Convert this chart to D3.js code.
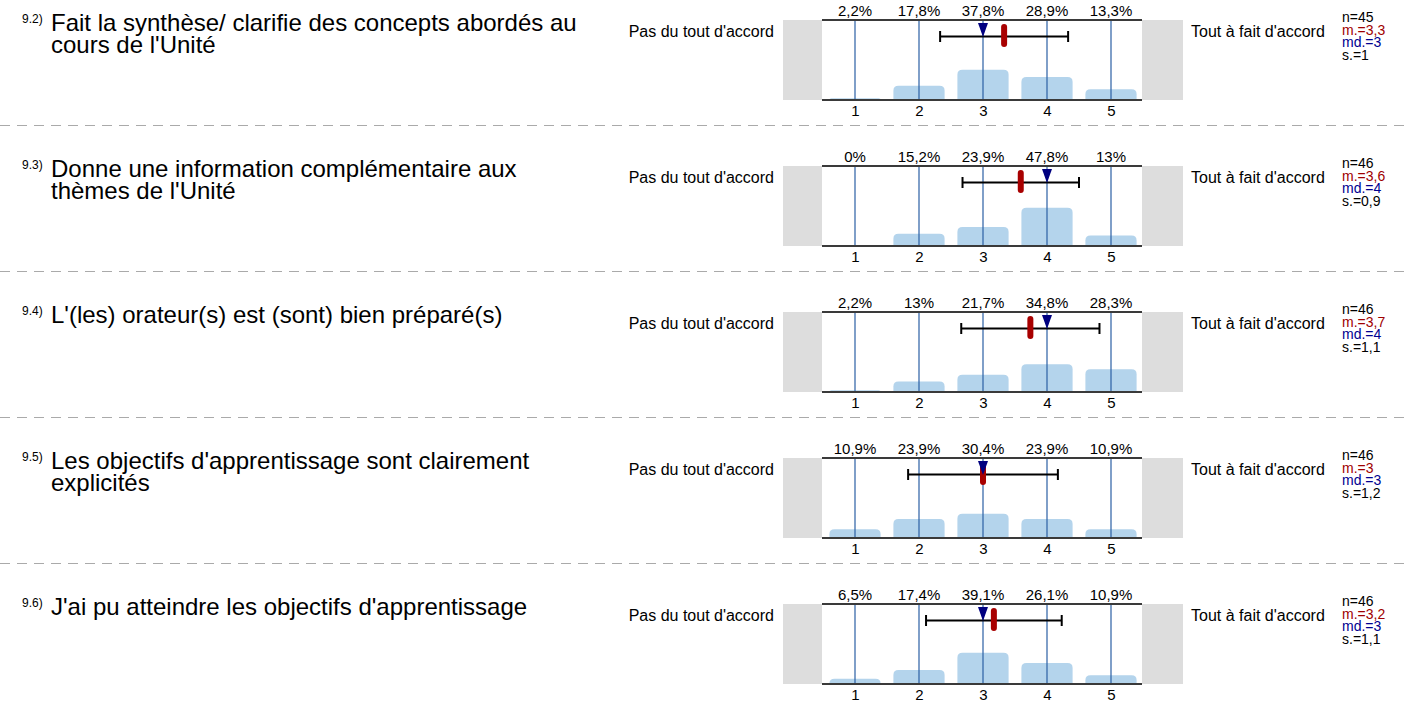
<!DOCTYPE html>
<html>
<head>
<meta charset="utf-8">
<script src="https://cdn.jsdelivr.net/npm/d3@7"></script>
<style>
  html, body { margin: 0; padding: 0; background: #ffffff; }
  svg { display: block; font-family: "Liberation Sans", Arial, sans-serif; }
</style>
</head>
<body>
<svg id="chart" width="1411" height="702"></svg>
<script>
// ---------- data ----------
const questionIds = ["9.2)", "9.3)", "9.4)", "9.5)", "9.6)"];
const questionLines = [
  ["Fait la synthèse/ clarifie des concepts abordés au", "cours de l'Unité"],
  ["Donne une information complémentaire aux", "thèmes de l'Unité"],
  ["L'(les) orateur(s) est (sont) bien préparé(s)"],
  ["Les objectifs d'apprentissage sont clairement", "explicités"],
  ["J'ai pu atteindre les objectifs d'apprentissage"]
];
const scaleValues = [1, 2, 3, 4, 5];
const pct1 = [2.2, 17.8, 37.8, 28.9, 13.3];
const pct2 = [0, 15.2, 23.9, 47.8, 13];
const pct3 = [2.2, 13, 21.7, 34.8, 28.3];
const pct4 = [10.9, 23.9, 30.4, 23.9, 10.9];
const pct5 = [6.5, 17.4, 39.1, 26.1, 10.9];
const percents = [pct1, pct2, pct3, pct4, pct5];
const nValues = [45, 46, 46, 46, 46];
const means = [3.33, 3.59, 3.74, 3.00, 3.17];
const medians = [3, 4, 4, 3, 3];
const sds = [1.0, 0.91, 1.08, 1.17, 1.06];
const meanLabels = ["3,3", "3,6", "3,7", "3", "3,2"];
const medianLabels = ["3", "4", "4", "3", "3"];
const sdLabels = ["1", "0,9", "1,1", "1,2", "1,1"];
const leftLabel = "Pas du tout d'accord";
const rightLabel = "Tout à fait d'accord";

// ---------- layout ----------
const W = 1411;
const rowPitch = 146;
const firstTop = 20;
const plotH = 80;
const plotX0 = 822, plotX1 = 1142;
const greyW = 40;

const svg = d3.select("#chart");

const xBand = d3.scaleBand().domain(scaleValues).range([plotX0, plotX1])
  .paddingInner(0.2).paddingOuter(0.1);
const xLin = d3.scaleLinear()
  .domain([1, 5])
  .range([xBand(1) + xBand.bandwidth() / 2 + 1, xBand(5) + xBand.bandwidth() / 2 + 1]);

const fmtPct = v => String(v).replace(".", ",") + "%";

function barPath(x, y, w, h, r) {
  r = Math.min(r, h, w / 2);
  return `M${x},${y + h}V${y + r}Q${x},${y} ${x + r},${y}H${x + w - r}Q${x + w},${y} ${x + w},${y + r}V${y + h}Z`;
}

questionIds.forEach((qid, i) => {
  const top = firstTop + i * rowPitch;
  const bottom = top + plotH;
  const y = d3.scaleLinear().domain([0, 100]).range([bottom, bottom - plotH]);
  const g = svg.append("g");

  // question number + text
  g.append("text").attr("x", 22).attr("y", top + 3)
    .attr("font-size", 12).attr("fill", "#000").text(qid);
  questionLines[i].forEach((ln, k) => {
    g.append("text").attr("x", 51).attr("y", top + 11 + k * 22)
      .attr("font-size", 24).attr("fill", "#000").text(ln);
  });

  // side labels
  g.append("text").attr("x", plotX0 - greyW - 8).attr("y", top + 17)
    .attr("text-anchor", "end").attr("font-size", 16).attr("fill", "#000").text(leftLabel);
  g.append("text").attr("x", plotX1 + greyW + 9).attr("y", top + 17)
    .attr("font-size", 16).attr("fill", "#000").text(rightLabel);

  // grey boxes
  g.append("rect").attr("x", plotX0 - greyW + 1).attr("y", top).attr("width", greyW - 1).attr("height", plotH).attr("fill", "#dddddd");
  g.append("rect").attr("x", plotX1).attr("y", top).attr("width", greyW + 1).attr("height", plotH).attr("fill", "#dddddd");

  // bars
  const vals = percents[i];
  g.selectAll("path.bar").data(scaleValues).enter().append("path")
    .attr("class", "bar")
    .attr("d", (d, j) => {
      const h = bottom - y(vals[j]);
      if (h <= 0) return null;
      return barPath(xBand(d) + 1, y(vals[j]), xBand.bandwidth(), h, 5);
    })
    .attr("fill", "#b4d4ec");

  // vertical tick lines
  g.selectAll("line.tick").data(scaleValues).enter().append("line")
    .attr("x1", d => xLin(d)).attr("x2", d => xLin(d))
    .attr("y1", top).attr("y2", bottom)
    .attr("stroke", "#2a5fa4").attr("stroke-width", 1.2);

  // top & bottom axis lines
  [top, bottom].forEach(yy => {
    g.append("line").attr("x1", plotX0).attr("x2", plotX1).attr("y1", yy).attr("y2", yy)
      .attr("stroke", "#3a3a3a").attr("stroke-width", 2);
  });

  // percent labels
  g.selectAll("text.pct").data(scaleValues).enter().append("text")
    .attr("x", d => xLin(d)).attr("y", top - 4)
    .attr("text-anchor", "middle").attr("font-size", 15).attr("fill", "#000")
    .text((d, j) => fmtPct(vals[j]));

  // tick labels
  const axis = d3.axisBottom(xLin).tickValues(scaleValues).tickSize(0).tickPadding(5).tickFormat(d3.format("d"));
  const ag = g.append("g").attr("transform", `translate(0,${bottom})`).call(axis);
  ag.select(".domain").remove();
  ag.selectAll("text").attr("font-size", 15).attr("fill", "#000")
    .attr("font-family", "'Liberation Sans', Arial, sans-serif");

  // error bar (mean ± sd)
  const ey = top + 16.5;
  const lo = xLin(means[i] - sds[i]), hi = xLin(means[i] + sds[i]);
  g.append("line").attr("x1", lo).attr("x2", hi).attr("y1", ey).attr("y2", ey)
    .attr("stroke", "#000").attr("stroke-width", 2);
  [lo, hi].forEach(xx => {
    g.append("line").attr("x1", xx).attr("x2", xx).attr("y1", ey - 5.5).attr("y2", ey + 5.5)
      .attr("stroke", "#000").attr("stroke-width", 2);
  });

  // mean marker
  g.append("rect").attr("x", xLin(means[i]) - 3).attr("y", top + 4)
    .attr("width", 6).attr("height", 23).attr("rx", 3)
    .attr("fill", "#a80000");

  // median triangle
  const mx = xLin(medians[i]);
  g.append("path")
    .attr("d", `M${mx - 5},${top + 3}L${mx + 5},${top + 3}L${mx},${top + 17}Z`)
    .attr("fill", "#000080");

  // stats
  const stats = [
    { t: "n=" + nValues[i], c: "#000" },
    { t: "m.=" + meanLabels[i], c: "#a00000" },
    { t: "md.=" + medianLabels[i], c: "#000090" },
    { t: "s.=" + sdLabels[i], c: "#000" }
  ];
  stats.forEach((s, k) => {
    g.append("text").attr("x", 1342).attr("y", top + 2 + k * 12.7)
      .attr("font-size", 14).attr("fill", s.c).text(s.t);
  });

  // dashed separator
  if (i < questionIds.length - 1) {
    svg.append("line").attr("x1", 0).attr("x2", W)
      .attr("y1", top + 105.5).attr("y2", top + 105.5)
      .attr("stroke", "#aaaaaa").attr("stroke-width", 1)
      .attr("stroke-dasharray", "10,7");
  }
});
</script>
</body>
</html>
